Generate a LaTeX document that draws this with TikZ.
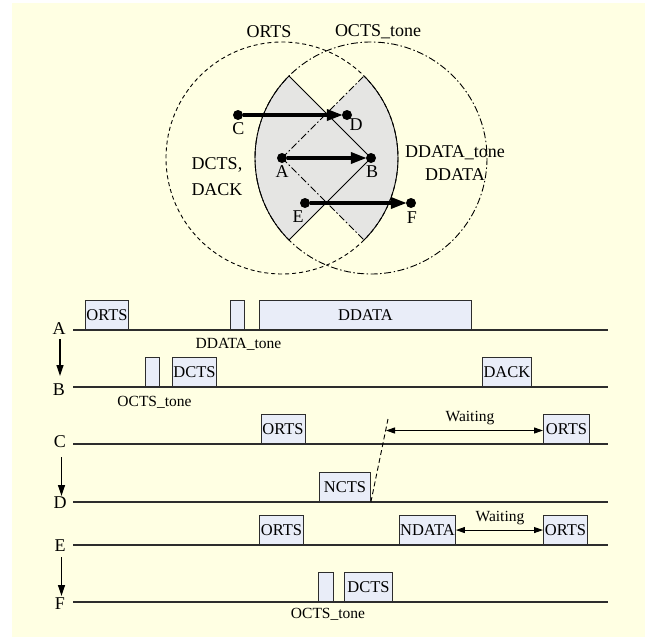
\documentclass[tikz,border=0pt]{standalone}
\usepackage{fontspec}
\setmainfont{Liberation Serif}
\usetikzlibrary{arrows.meta}
\definecolor{bgcream}{RGB}{255,255,227}
\definecolor{lensgray}{RGB}{229,229,227}
\definecolor{slotfill}{RGB}{233,237,248}
\definecolor{edge}{RGB}{45,45,45}
\begin{document}
\begin{tikzpicture}[x=1pt,y=-1pt,
  font=\fontsize{15.5}{18}\selectfont,
  slot/.style={draw=edge, fill=slotfill, line width=0.9pt, anchor=south west,
               minimum height=29pt, inner sep=0pt, font=\fontsize{16.5}{18}\selectfont},
  tline/.style={draw=edge, line width=1.3pt},
  downarrow/.style={line width=1.2pt, -{Triangle[length=11pt,width=7pt]}},
  waitarrow/.style={line width=1pt, {Triangle[length=9pt,width=6pt]}-{Triangle[length=9pt,width=6pt]}},
  dot/.style={circle, fill=black, minimum size=10pt, inner sep=0pt},
  fat/.style={line width=3.5pt, -{Triangle[length=16pt,width=11pt]}, shorten >=-1pt},
  rangeA/.style={line width=0.9pt, dash pattern=on 4pt off 3pt},
  rangeB/.style={line width=0.9pt, dash pattern=on 7pt off 2.5pt on 1.5pt off 2.5pt},
  lbl/.style={inner sep=1pt},
  big/.style={inner sep=1pt, font=\fontsize{18}{20}\selectfont}]
\useasboundingbox (0,0) rectangle (645,637);
\fill[white] (0,0) rectangle (645,637);
\fill[bgcream] (12,3) rectangle (645,637);

% ---------- coverage sketch ----------
\coordinate (cA) at (282,158);
\coordinate (cB) at (371,158);
\def\rr{116}
% shaded sectors
\fill[lensgray] (cB) -- ++(135:\rr) arc[start angle=135, end angle=225, radius=\rr] -- cycle;
\fill[lensgray] (cA) -- ++(-45:\rr) arc[start angle=-45, end angle=45, radius=\rr] -- cycle;
% transmission ranges
\draw[rangeA] (cA) circle[radius=\rr];
\draw[rangeB] (cB) circle[radius=\rr];
% sector outlines
\draw[line width=0.9pt] (cB) -- ++(135:\rr) arc[start angle=135, end angle=225, radius=\rr] -- cycle;
\draw[line width=0.9pt] (cA) ++(-45:\rr) arc[start angle=-45, end angle=45, radius=\rr];
\draw[rangeB] (cA) -- ++(45:\rr);
\draw[rangeB] (cA) -- ++(-45:\rr);

% stations
\node[dot] (pA) at (cA) {};
\node[dot] (pB) at (cB) {};
\node[dot] (pC) at (238,115) {};
\node[dot] (pD) at (347,115) {};
\node[dot] (pE) at (305,203) {};
\node[dot] (pF) at (411,203) {};
\draw[fat] (pC) -- (pD);
\draw[fat] (pA) -- (pB);
\draw[fat] (pE) -- (pF);

\node[big] (tA) at (282,172) {A};
\node[big] (tB) at (372,172) {B};
\node[big] (tC) at (238.5,128.5) {C};
\node[big] (tD) at (356,125) {D};
\node[big] (tE) at (298,217) {E};
\node[big] (tF) at (412,218) {F};

\node[big] (tORTS) at (269,32) {ORTS};
\node[big] (tOCTS) at (378,32) {OCTS\_tone};
\node[big] (tDCTS) at (217,165) {DCTS,};
\node[big] (tDACK) at (217,190) {DACK};
\node[big] (tDDt) at (455,153) {DDATA\_tone};
\node[big] (tDD) at (455,175) {DDATA};

% ---------- timelines ----------
\foreach \nm/\yy in {A/330,B/387,C/444,D/502,E/545,F/602}{
  \coordinate (\nm0) at (73,\yy);
  \coordinate (\nm1) at (608,\yy);
  \draw[tline] (\nm0) -- (\nm1);
}
\node[big] (sA) at (59,329) {A};
\node[big] (sB) at (59,390) {B};
\node[big] (sC) at (60,442) {C};
\node[big] (sD) at (60,503) {D};
\node[big] (sE) at (60,546) {E};
\node[big] (sF) at (60,604) {F};

\coordinate (ab0) at (60,339);  \coordinate (ab1) at (60,376);
\coordinate (cd0) at (61.5,457); \coordinate (cd1) at (61.5,496);
\coordinate (ef0) at (61.5,557); \coordinate (ef1) at (61.5,596);
\draw[downarrow] (ab0) -- (ab1);
\draw[downarrow] (cd0) -- (cd1);
\draw[downarrow] (ef0) -- (ef1);

% row A
\node[slot, minimum width=43pt] (aORTS) at (85,330) {ORTS};
\node[slot, minimum width=14pt] (aTone) at (230,330) {};
\node[slot, minimum width=212pt] (aDDATA) at (259,330) {DDATA};
\node[lbl] (aToneLbl) at (238.5,344) {DDATA\_tone};
% row B
\node[slot, minimum width=14pt] (bTone) at (145,387) {};
\node[slot, minimum width=44pt] (bDCTS) at (172,387) {DCTS};
\node[slot, minimum width=49pt] (bDACK) at (482,387) {DACK};
\node[lbl] (bToneLbl) at (154.5,402) {OCTS\_tone};
% row C
\node[slot, minimum width=44pt] (cORTS) at (260.5,444) {ORTS};
\node[slot, minimum width=46pt] (cORTS2) at (543,444) {ORTS};
% row D
\node[slot, minimum width=51pt] (dNCTS) at (319,502) {NCTS};
% row E
\node[slot, minimum width=44pt] (eORTS) at (259,545) {ORTS};
\node[slot, minimum width=56pt] (eNDATA) at (399,545) {NDATA};
\node[slot, minimum width=44pt] (eORTS2) at (543,545) {ORTS};
% row F
\node[slot, minimum width=14.5pt] (fTone) at (318,602) {};
\node[slot, minimum width=48pt] (fDCTS) at (344,602) {DCTS};
\node[lbl] (fToneLbl) at (328,614) {OCTS\_tone};

% backoff after NCTS
\coordinate (dTop) at (388,419);
\draw[line width=0.9pt, dash pattern=on 5pt off 3pt] (dNCTS.south east) -- (dTop);
\coordinate (cW0) at (386,430.5);
\draw[waitarrow] (cW0) -- (cW0 -| cORTS2.west);
\node[lbl] (cWait) at (470,418) {Waiting};
\draw[waitarrow] (eNDATA.east) -- (eORTS2.west);
\node[lbl] (eWait) at (500,518) {Waiting};
\end{tikzpicture}
\end{document}
